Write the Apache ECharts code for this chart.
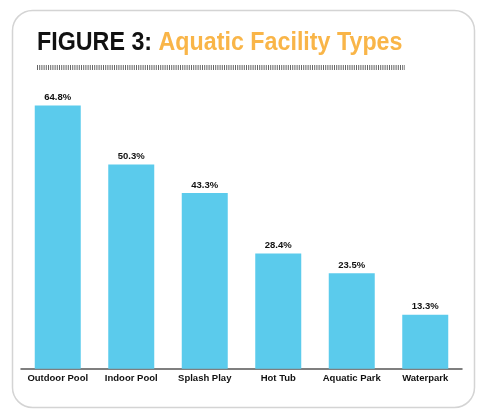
<!DOCTYPE html>
<html><head><meta charset="utf-8">
<script src="https://cdn.jsdelivr.net/npm/echarts@6/dist/echarts.min.js"></script>
<style>html,body{margin:0;padding:0;background:#fff}#c{width:500px;height:418px}</style>
</head><body><div id="c"></div>
<script>
var categories = ['Outdoor Pool','Indoor Pool','Splash Play','Hot Tub','Aquatic Park','Waterpark'];
var values = [64.8, 50.3, 43.3, 28.4, 23.5, 13.3];

var chart = echarts.init(document.getElementById('c'));
chart.setOption({
  animation: false,
  graphic: [
    {type: 'rect', shape: {x: 12.5, y: 10.5, width: 462, height: 397, r: 20}, style: {fill: 'none', stroke: '#d4d4d4', lineWidth: 1.5}, z: -1},
    {type: 'text', x: 37, y: 30, scaleX: 0.895, style: {
      text: '{a|FIGURE 3: }{b|Aquatic Facility Types}',
      rich: {
        a: {fontFamily: 'Liberation Sans', fontWeight: 'bold', fontSize: 26, fill: '#111'},
        b: {fontFamily: 'Liberation Sans', fontWeight: 'bold', fontSize: 26, fill: '#F9B548'}
      }
    }},
    {type: 'line', shape: {x1: 37, y1: 67.5, x2: 405, y2: 67.5}, style: {stroke: '#666', lineWidth: 5, lineDash: [1, 1.2]}}
  ],
  grid: {left: 21, right: 38, top: 84.5, bottom: 49.3},
  xAxis: {
    type: 'category', data: categories,
    axisLine: {lineStyle: {color: '#555', width: 1.5}},
    axisTick: {show: false},
    axisLabel: {interval: 0, color: '#111', fontWeight: 'bold', fontSize: 9.5, fontFamily: 'Liberation Sans', margin: 5}
  },
  yAxis: {type: 'value', min: 0, max: 70, show: false, splitLine: {show: false}},
  series: [{
    type: 'bar', data: values, barWidth: 46,
    itemStyle: {color: '#5BCBEC'},
    label: {show: true, position: 'top', formatter: '{c}%', color: '#111', fontWeight: 'bold', fontSize: 9.5, fontFamily: 'Liberation Sans', distance: 3}
  }]
});
</script></body></html>
